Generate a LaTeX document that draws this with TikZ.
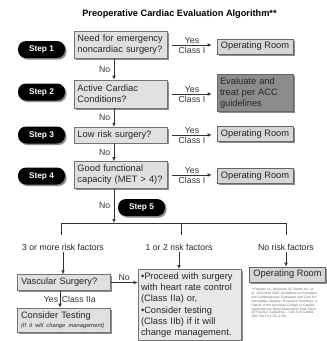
\documentclass[tikz,border=0pt]{standalone}
\usepackage{fontspec}
\setmainfont{Liberation Sans}
\usetikzlibrary{arrows.meta,shadows}

\begin{document}
\begin{tikzpicture}[
  x=1pt, y=-1pt,
  font=\fontsize{9.3}{11}\selectfont,
  text=black!85,
  boxshadow/.style={drop shadow={shadow xshift=1.6pt, shadow yshift=-1.6pt,
    fill=black!45, opacity=1}},
  query/.style={
    rectangle, draw=black!55, fill=black!12, line width=0.6pt,
    text width=86pt, align=left, inner sep=3.5pt, minimum height=#1, boxshadow
  },
  query/.default=15pt,
  orbox/.style={
    rectangle, draw=black!60, fill=black!16, line width=0.6pt,
    minimum width=76pt, minimum height=15pt, inner sep=2pt, boxshadow
  },
  evalbox/.style={orbox, fill=black!45, text width=70pt, align=left, inner sep=3pt},
  stepbox/.style={
    rectangle, rounded corners=8pt, fill=black, text=white,
    font=\fontsize{8.3}{9}\selectfont\bfseries,
    minimum width=47pt, minimum height=17pt, inner sep=1pt, boxshadow
  },
  arrow/.style={-{Latex[length=4pt,width=3.6pt]}, black!80, line width=0.7pt},
  conn/.style={black!80, line width=0.7pt},
  lbl/.style={font=\fontsize{8.7}{10}\selectfont, inner sep=1.5pt},
]
\useasboundingbox (0,0) rectangle (327,341);

% Title
\node[font=\fontsize{9.2}{11}\selectfont\bfseries, text=black] (title) at (179.5,14)
  {Preoperative Cardiac Evaluation Algorithm**};

% Steps 1--4
\node[stepbox] (s1) at (41.5,49.5) {Step 1};
\node[stepbox] (s2) at (41.5,92)   {Step 2};
\node[stepbox] (s3) at (41.5,135)  {Step 3};
\node[stepbox] (s4) at (41.5,176)  {Step 4};

\node[query=26pt] (q1) at (120.5,45)  {Need for emergency\\noncardiac surgery?};
\node[query=28pt] (q2) at (120.5,94)  {Active Cardiac\\Conditions?};
\node[query]      (q3) at (120.5,135) {Low risk surgery?};
\node[query=27pt] (q4) at (120.5,175) {Good functional\\capacity (MET > 4)?};

\node[orbox]   (o1) at (255,46.5) {Operating Room};
\node[evalbox] (e2) at (255,93)   {Evaluate and\\treat per ACC\\guidelines};
\node[orbox]   (o3) at (255,134)  {Operating Room};
\node[orbox]   (o4) at (255,176)  {Operating Room};

% Yes arrows
\foreach \q/\o in {q1/o1, q2/e2, q3/o3, q4/o4} {
  \draw[arrow, shorten <=5pt, shorten >=5pt] (\q.east) -- (\q.east -| \o.west)
    node[midway, above, lbl] {Yes} node[midway, below, lbl] {Class I};
}

% No arrows
\foreach \a/\b in {q1/q2, q2/q3, q3/q4} {
  \draw[arrow] ([xshift=-6.5pt]\a.south) -- ([xshift=-6.5pt]\b.north)
    node[midway, left, lbl, xshift=-2pt] {No};
}

% Step 5 and the three branches
\coordinate (fork) at (114,223);
\node[stepbox] (s5) at (141.5,207.5) {Step 5};
\draw[arrow] ([xshift=-6.5pt]q4.south) -- (fork)
  node[midway, left, lbl, xshift=-2pt] {No};

\node[lbl] (r3)  at (63,247)  {3 or more risk factors};
\node[lbl] (r12) at (179,247) {1 or 2 risk factors};
\node[lbl] (r0)  at (286,247) {No risk factors};

\coordinate (d3)  at (61.5,235);
\coordinate (d12) at (181,235);
\coordinate (d0)  at (286,235);
\draw[conn] (d3) -- (d3 |- fork) -- (d0 |- fork) -- (d0);
\draw[conn] (d12) -- (d12 |- fork);

% Lower part
\node[query] (vs) at (64,282.5) {Vascular Surgery?};
\node[query=20pt] (ct) at (64,320)
  {Consider Testing\\[-2pt]{\fontsize{5.8}{6.5}\selectfont\itshape (If it will change management)}};
\node[query=66pt, text width=97pt, inner sep=3pt,
  font=\fontsize{9.3}{11.3}\selectfont, fill=black!9] (pb) at (189.5,305)
  {\textbullet Proceed with surgery\\with heart rate control\\(Class IIa) or,\\%
   \textbullet Consider testing\\(Class IIb) if it will\\change management.};
\node[orbox] (o5) at (287.5,274.5) {Operating Room};

\draw[arrow] (r3.south) -- (r3.south |- vs.north);
\draw[arrow] (r12.south) -- (r12.south |- pb.north);
\draw[arrow] (r0.south) -- (r0.south |- o5.north);
\draw[arrow] ([xshift=-4pt]vs.south) -- ([xshift=-4pt]ct.north)
  node[midway, left, lbl] {Yes} node[midway, right, lbl] {Class IIa};
\draw[arrow] (vs.east) -- (vs.east -| pb.west)
  node[midway, above, lbl] {No};

% Footnote
\node[anchor=north, text width=72pt, align=left, inner sep=0pt, text=black!60,
  font=\fontsize{3.3}{3.9}\selectfont] (fn) at (287.5,288)
  {**Fleisher LA, Beckman JA, Brown KA, et al. ACC/AHA 2007 Guidelines on
   Perioperative Cardiovascular Evaluation and Care for Noncardiac Surgery:
   Executive Summary: A Report of the American College of Cardiology/American
   Heart Association Task Force on Practice Guidelines. J Am Coll Cardiol.
   2007;50(17):1707-1732.};

\end{tikzpicture}
\end{document}
